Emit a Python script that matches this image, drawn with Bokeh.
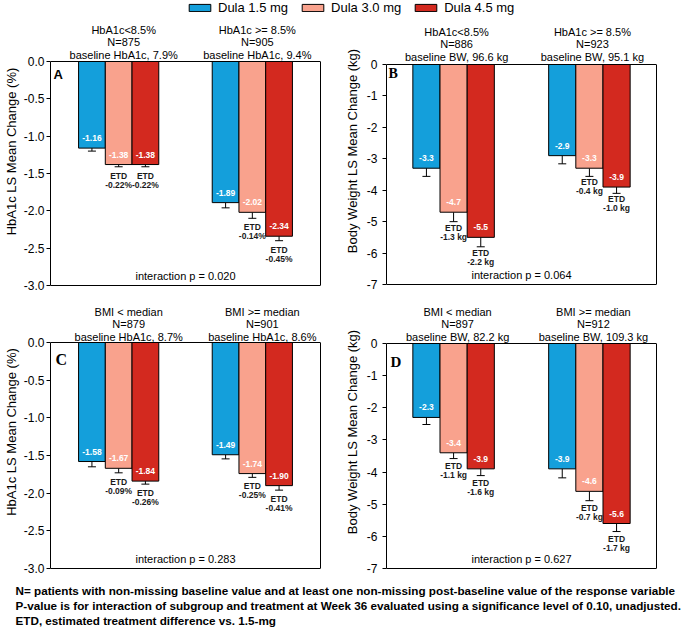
from bokeh.plotting import figure
from bokeh.models import (ColumnDataSource, FactorRange, Range1d, LabelSet, Label,
                          Whisker, TeeHead, Legend, LegendItem, FixedTicker,
                          NumeralTickFormatter, LinearAxis, Span)
from bokeh.layouts import column, row
from bokeh.embed import file_html
from bokeh.resources import INLINE
from bokeh.core.properties import value

# ---------------- data ----------------
DOSES = ["Dula 1.5 mg", "Dula 3.0 mg", "Dula 4.5 mg"]
COLORS = ["#149FDB", "#F9A28D", "#D3291F"]

HBA_TICKS = [0.0, -0.5, -1.0, -1.5, -2.0, -2.5, -3.0]
BW_TICKS = [0, -1, -2, -3, -4, -5, -6, -7]

# Panel A: HbA1c change by baseline HbA1c
A_GROUPS = ["HbA1c<8.5%", "HbA1c >= 8.5%"]
A_N = ["N=875", "N=905"]
A_BASE = ["baseline HbA1c, 7.9%", "baseline HbA1c, 9.4%"]
A_MEAN = [-1.16, -1.38, -1.38, -1.89, -2.02, -2.34]
A_LOW = [-1.20, -1.41, -1.41, -1.96, -2.10, -2.40]
A_ETD = ["", "-0.22%", "-0.22%", "", "-0.14%", "-0.45%"]
A_P = "interaction p = 0.020"

# Panel B: body weight change by baseline HbA1c
B_GROUPS = ["HbA1c<8.5%", "HbA1c >= 8.5%"]
B_N = ["N=886", "N=923"]
B_BASE = ["baseline BW, 96.6 kg", "baseline BW, 95.1 kg"]
B_MEAN = [-3.3, -4.7, -5.5, -2.9, -3.3, -3.9]
B_LOW = [-3.56, -5.0, -5.8, -3.16, -3.56, -4.1]
B_ETD = ["", "-1.3 kg", "-2.2 kg", "", "-0.4 kg", "-1.0 kg"]
B_P = "interaction p = 0.064"

# Panel C: HbA1c change by baseline BMI
C_GROUPS = ["BMI < median", "BMI >= median"]
C_N = ["N=879", "N=901"]
C_BASE = ["baseline HbA1c, 8.7%", "baseline HbA1c, 8.6%"]
C_MEAN = [-1.58, -1.67, -1.84, -1.49, -1.74, -1.90]
C_LOW = [-1.65, -1.73, -1.88, -1.545, -1.79, -1.96]
C_ETD = ["", "-0.09%", "-0.26%", "", "-0.25%", "-0.41%"]
C_P = "interaction p = 0.283"

# Panel D: body weight change by baseline BMI
D_GROUPS = ["BMI < median", "BMI >= median"]
D_N = ["N=897", "N=912"]
D_BASE = ["baseline BW, 82.2 kg", "baseline BW, 109.3 kg"]
D_MEAN = [-2.3, -3.4, -3.9, -3.9, -4.6, -5.6]
D_LOW = [-2.52, -3.58, -4.11, -4.18, -4.89, -5.85]
D_ETD = ["", "-1.1 kg", "-1.6 kg", "", "-0.7 kg", "-1.7 kg"]
D_P = "interaction p = 0.627"

FOOTNOTES = [
    "N= patients with non-missing baseline value and at least one non-missing post-baseline value of the response variable",
    "P-value is for interaction of subgroup and treatment at Week 36 evaluated using a significance level of 0.10, unadjusted.",
    "ETD, estimated treatment difference vs. 1.5-mg",
]

SANS = "Liberation Sans"
SERIF = "Liberation Serif"
PAD_PX = 2   # frame extends this far below the plot box


def make_panel(groups, ns, bases, means, lows, etds, ptxt, letter, letter_font,
               letter_xy, ymin, ticks, fmt, ylabel, dec, fw, box_h, head_h, bl,
               br, bb, pads, label_dx, label_y0, etd_off, stand):
    factors = [(g, d) for g in groups for d in DOSES]
    xr = FactorRange(factors=factors, range_padding=pads[0],
                     range_padding_units="absolute", group_padding=pads[1],
                     factor_padding=0.0)
    unit = abs(ymin) / box_h                  # data units per pixel
    p = figure(x_range=xr,
               y_range=Range1d(ymin - PAD_PX * unit, head_h * unit),
               frame_width=fw, frame_height=box_h + head_h + PAD_PX,
               min_border_left=bl, min_border_right=br, min_border_top=0,
               min_border_bottom=bb, x_axis_location=None,
               toolbar_location=None, output_backend="svg",
               outline_line_color=None)
    p.grid.visible = False

    # plot box: left = y axis, right = bare axis, top/bottom = spans
    p.add_layout(LinearAxis(ticker=FixedTicker(ticks=[]), bounds=(ymin, 0),
                            major_label_text_font_size="0px", major_tick_out=0,
                            major_tick_in=0, minor_tick_out=0, minor_tick_in=0,
                            major_label_standoff=0, axis_line_color="black",
                            axis_line_width=1), "right")
    for loc in (0, ymin):
        p.add_layout(Span(location=loc, dimension="width", line_color="black",
                          line_width=1))

    src = ColumnDataSource(dict(
        x=factors, top=means, low=lows, color=COLORS * len(groups),
        vtxt=[f"{v:.{dec}f}" for v in means]))
    p.vbar(x="x", top="top", bottom=0, width=1.0, source=src,
           fill_color="color", line_color="black", line_width=1)
    p.add_layout(Whisker(source=src, base="x", upper="top", lower="low",
                         dimension="height", upper_head=None,
                         lower_head=TeeHead(size=8, line_color="black",
                                            line_width=1),
                         line_color="black", line_width=1))
    p.add_layout(LabelSet(source=src, x="x", y="top", text="vtxt", y_offset=10,
                          text_align="center", text_baseline="middle",
                          text_color="white", text_font=value(SANS),
                          text_font_size="8.5px", text_font_style="bold"))

    ex = [f for f, e in zip(factors, etds) if e]
    ey = [l for l, e in zip(lows, etds) if e]
    et = [e for e in etds if e]
    esrc = ColumnDataSource(dict(x=ex, y=ey, etd=["ETD"] * len(ex), val=et))
    for col, off in (("etd", etd_off[0]), ("val", etd_off[1])):
        p.add_layout(LabelSet(source=esrc, x="x", y="y", text=col, y_offset=-off,
                              text_align="center", text_baseline="middle",
                              text_color="#1a1a1a", text_font=value(SANS),
                              text_font_size="8.5px", text_font_style="bold"))

    # subgroup headings above the plot box, centred on each group
    n_dose = len(DOSES)
    for gi, (g, n, b) in enumerate(zip(groups, ns, bases)):
        gcenter = gi * (n_dose + pads[1]) + n_dose / 2
        for t, o in ((g, label_y0 + 25), (n, label_y0 + 12.5), (b, label_y0)):
            p.add_layout(Label(x=gcenter, y=0, y_offset=o, x_offset=label_dx,
                               text=t, text_align="center",
                               text_baseline="middle", text_color="black",
                               text_font=SANS, text_font_size="11px"))

    p.add_layout(Label(x=fw / 2, x_units="screen", y=ymin, y_offset=10,
                       text=ptxt, text_align="center", text_baseline="middle",
                       text_font=SANS, text_font_size="11px",
                       text_color="black"))
    p.add_layout(Label(x=letter_xy[0], x_units="screen", y=0,
                       y_offset=-letter_xy[1], text=letter, text_align="left",
                       text_baseline="top", text_font=letter_font[0],
                       text_font_size=letter_font[1], text_font_style="bold",
                       text_color="black"))

    ax = p.yaxis[0]
    ax.bounds = (ymin, 0)
    ax.ticker = FixedTicker(ticks=ticks)
    ax.formatter = NumeralTickFormatter(format=fmt)
    ax.axis_label = ylabel
    ax.axis_label_text_font = SANS
    ax.axis_label_text_font_size = "13px"
    ax.axis_label_text_font_style = "normal"
    ax.axis_label_text_color = "black"
    ax.axis_label_standoff = stand[1]
    ax.major_label_text_font = SANS
    ax.major_label_text_font_size = "12px"
    ax.major_label_text_color = "black"
    ax.major_label_standoff = stand[0]
    ax.major_tick_out = 4
    ax.major_tick_in = 0
    ax.minor_tick_out = 0
    ax.minor_tick_in = 0
    ax.axis_line_color = "black"
    ax.major_tick_line_color = "black"
    return p


pA = make_panel(A_GROUPS, A_N, A_BASE, A_MEAN, A_LOW, A_ETD, A_P, "A",
                (SANS, "13px"), (3, 5), -3.0, HBA_TICKS, "0.0",
                "HbA1c LS Mean Change (%)", 2, 270, 224, 46, 48, 18, 6,
                (1.05, 2.0), 5, 7, (9, 18), (2, 2))
pB = make_panel(B_GROUPS, B_N, B_BASE, B_MEAN, B_LOW, B_ETD, B_P, "B",
                (SERIF, "14px"), (2, 1), -7.0, BW_TICKS, "0",
                "Body Weight LS Mean Change (kg)", 1, 270, 220, 49, 48, 26, 7,
                (0.97, 2.0), 3, 8, (6, 15), (5, 4))
pC = make_panel(C_GROUPS, C_N, C_BASE, C_MEAN, C_LOW, C_ETD, C_P, "C",
                (SERIF, "16px"), (5, 8), -3.0, HBA_TICKS, "0.0",
                "HbA1c LS Mean Change (%)", 2, 270, 226, 49, 48, 18, 6,
                (1.05, 2.0), 10, 6, (9, 18), (2, 2))
pD = make_panel(D_GROUPS, D_N, D_BASE, D_MEAN, D_LOW, D_ETD, D_P, "D",
                (SERIF, "15px"), (4, 10), -7.0, BW_TICKS, "0",
                "Body Weight LS Mean Change (kg)", 1, 270, 225, 50, 48, 26, 6,
                (0.97, 2.0), 4, 7, (7, 16), (5, 4))

# legend strip (legend renderers hold data outside the visible ranges)
lp = figure(width=684, height=15, x_range=Range1d(0, 1), y_range=Range1d(0, 1),
            x_axis_location=None, y_axis_location=None,
            toolbar_location=None, output_backend="svg", min_border=0,
            outline_line_color=None)
lp.grid.visible = False
items = []
for d, c in zip(DOSES, COLORS):
    r = lp.vbar(x=[3], top=[3], bottom=[2], width=0.5, fill_color=c,
                line_color="black")
    items.append(LegendItem(label=d, renderers=[r]))
lp.add_layout(Legend(items=items, orientation="horizontal", location=(186, 0),
                     glyph_width=27, glyph_height=9, label_standoff=5,
                     spacing=11, padding=0, margin=0, border_line_color=None,
                     background_fill_alpha=0, label_height=10,
                     label_text_font=SANS, label_text_font_size="13px",
                     label_text_color="black", label_text_baseline="middle"))

# footnotes
fp = figure(width=684, height=53, x_axis_location=None, y_axis_location=None,
            toolbar_location=None, output_backend="svg", min_border=0,
            outline_line_color=None)
fp.grid.visible = False
for i, t in enumerate(FOOTNOTES):
    fp.add_layout(Label(x=15, y=39 - 15 * i, x_units="screen", y_units="screen",
                        text=t, text_align="left", text_baseline="middle",
                        text_font=SANS, text_font_size="11.7px",
                        text_font_style="bold", text_color="black"))

layout = column(lp, row(pA, pB), row(pC, pD), fp)
open("out.html", "w").write(file_html(layout, INLINE))
